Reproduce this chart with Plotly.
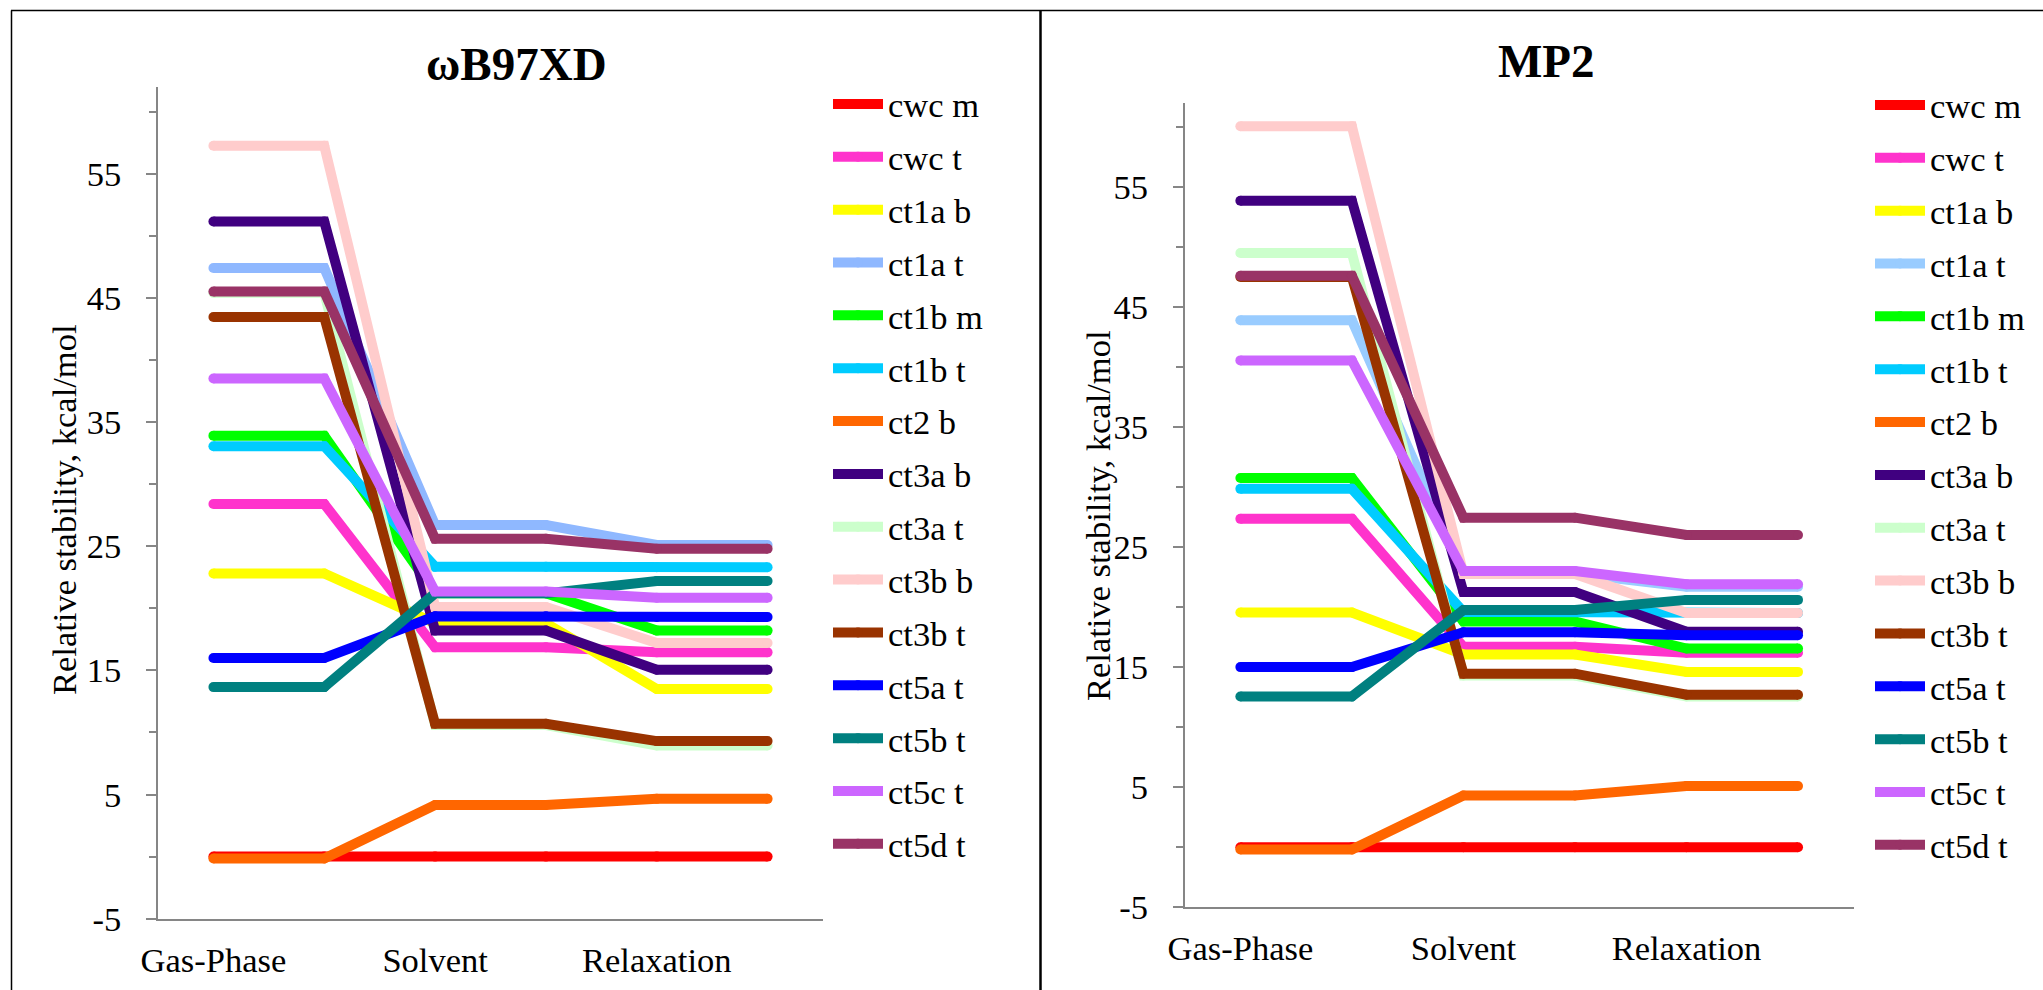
import plotly.graph_objects as go

# ---------------- data ----------------
stages = ["Gas-Phase", "Solvent", "Relaxation"]
x_slots = [0, 1, 2, 3, 4, 5]          # two slots per stage (level start / end)
stage_slots = [0, 2, 4]

series = ["cwc m", "cwc t", "ct1a b", "ct1a t", "ct1b m", "ct1b t", "ct2 b",
          "ct3a b", "ct3a t", "ct3b b", "ct3b t", "ct5a t", "ct5b t", "ct5c t", "ct5d t"]

colors_wb = ["#FF0000", "#FF33CC", "#FFFF00", "#8FB8FF", "#00FF00", "#00CCFF", "#FF6600",
             "#400080", "#CCFFCC", "#FFCCCC", "#993300", "#0000FF", "#008080", "#CC66FF", "#993366"]
colors_mp2 = ["#FF0000", "#FF33CC", "#FFFF00", "#99CCFF", "#00FF00", "#00CCFF", "#FF6600",
              "#400080", "#CCFFCC", "#FFCCCC", "#993300", "#0000FF", "#008080", "#CC66FF", "#993366"]

wb_gas     = [0.0, 28.4, 22.8, 47.4, 33.9, 33.05, -0.15, 51.15, 45.4, 57.25, 43.45, 16.0, 13.65, 38.5, 45.5]
wb_solvent = [0.0, 16.85, 18.8, 26.7, 21.2, 23.35, 4.15, 18.2, 10.6, 20.1, 10.7, 19.35, 21.2, 21.35, 25.6]
wb_relax   = [0.0, 16.45, 13.5, 25.1, 18.2, 23.3, 4.65, 15.05, 8.95, 17.2, 9.3, 19.3, 22.2, 20.85, 24.8]

mp2_gas     = [0.0, 27.35, 19.55, 43.9, 30.75, 29.85, -0.2, 53.85, 49.5, 60.05, 47.5, 15.0, 12.55, 40.55, 47.6]
mp2_solvent = [0.0, 16.7, 16.05, 22.8, 18.8, 19.6, 4.3, 21.25, 14.3, 22.75, 14.45, 17.9, 19.75, 23.0, 27.45]
mp2_relax   = [0.0, 16.2, 14.6, 21.7, 16.55, 19.5, 5.1, 17.95, 12.55, 19.5, 12.7, 17.65, 20.6, 21.9, 26.0]

y_tickvals = [-5, 5, 15, 25, 35, 45, 55]
y_ticktext = ["-5", "5", "15", "25", "35", "45", "55"]
y_minor = [0, 10, 20, 30, 40, 50, 60]

# ---------------- layout helpers ----------------
W, H = 2043, 990
def px(x):
    return x / W
def py(y):
    return 1 - y / H

FONT = "Liberation Serif"
FS = 34.5
AX = "#868686"
LW = 10

fig = go.Figure()

def add_panel(gas, solv, relax, colors, xa, ya, leg, tag):
    for i, name in enumerate(series):
        yv = [gas[i], gas[i], solv[i], solv[i], relax[i], relax[i]]
        fig.add_trace(go.Scatter(
            x=x_slots, y=yv, mode="lines+markers", name=name,
            line=dict(color=colors[i], width=LW),
            marker=dict(color=colors[i], size=LW, line=dict(width=0)),
            xaxis=xa, yaxis=ya, legend=leg, legendgroup=tag + str(i),
            hoverinfo="skip"))

add_panel(wb_gas, wb_solvent, wb_relax, colors_wb, "x", "y", "legend", "a")
add_panel(mp2_gas, mp2_solvent, mp2_relax, colors_mp2, "x2", "y2", "legend2", "b")

def xaxis_cfg(domain, anchor):
    return dict(domain=domain, anchor=anchor, range=[-0.5, 5.5],
                tickvals=stage_slots, ticktext=stages, ticks="",
                showline=True, linecolor=AX, linewidth=1.5,
                showgrid=False, zeroline=False, fixedrange=True, automargin=False,
                tickfont=dict(family=FONT, size=FS, color="black"),
                ticklabelstandoff=10)

def yaxis_cfg(domain, anchor):
    return dict(domain=domain, anchor=anchor, range=[-5, 62],
                tickvals=y_tickvals, ticktext=y_ticktext,
                ticks="outside", ticklen=10, tickwidth=1.5, tickcolor=AX,
                minor=dict(tickvals=y_minor, ticks="outside", ticklen=7,
                           tickwidth=1.5, tickcolor=AX),
                showline=True, linecolor=AX, linewidth=1.5,
                showgrid=False, zeroline=False, fixedrange=True, automargin=False,
                tickfont=dict(family=FONT, size=FS, color="black"),
                ticklabelstandoff=18)

legend_common = dict(xanchor="left", yanchor="top", bgcolor="rgba(0,0,0,0)",
                     font=dict(family=FONT, size=FS, color="black"),
                     itemwidth=50, tracegroupgap=5, borderwidth=0)

fig.update_layout(
    width=W, height=H, autosize=False,
    margin=dict(l=0, r=0, t=0, b=0, pad=0, autoexpand=False),
    paper_bgcolor="white", plot_bgcolor="white",
    xaxis=xaxis_cfg([px(158), px(823)], "y"),
    yaxis=yaxis_cfg([py(918.7), py(86.7)], "x"),
    xaxis2=xaxis_cfg([px(1184.6), px(1853.8)], "y2"),
    yaxis2=yaxis_cfg([py(907.2), py(102.9)], "x2"),
    legend=dict(x=px(828), y=py(75), **legend_common),
    legend2=dict(x=px(1870), y=py(76), **legend_common),
    annotations=[
        dict(text="<b>ωB97XD</b>", x=px(516), y=py(64), xref="paper", yref="paper",
             showarrow=False, xanchor="center", yanchor="middle",
             font=dict(family=FONT, size=47, color="black")),
        dict(text="<b>MP2</b>", x=px(1546), y=py(61), xref="paper", yref="paper",
             showarrow=False, xanchor="center", yanchor="middle",
             font=dict(family=FONT, size=47, color="black")),
        dict(text="Relative stability, kcal/mol", x=px(64), y=py(510), xref="paper", yref="paper",
             showarrow=False, xanchor="center", yanchor="middle", textangle=-90,
             font=dict(family=FONT, size=FS, color="black")),
        dict(text="Relative stability, kcal/mol", x=px(1098), y=py(516), xref="paper", yref="paper",
             showarrow=False, xanchor="center", yanchor="middle", textangle=-90,
             font=dict(family=FONT, size=FS, color="black")),
    ],
    shapes=[
        dict(type="line", xref="paper", yref="paper", x0=px(11), x1=1, y0=py(10.5), y1=py(10.5),
             line=dict(color="black", width=1.3)),
        dict(type="line", xref="paper", yref="paper", x0=px(11.5), x1=px(11.5), y0=py(10.5), y1=0,
             line=dict(color="black", width=1.5)),
        dict(type="line", xref="paper", yref="paper", x0=px(1040.5), x1=px(1040.5), y0=py(10.5), y1=0,
             line=dict(color="black", width=2.5)),
    ],
)

fig.write_html("out.html")
